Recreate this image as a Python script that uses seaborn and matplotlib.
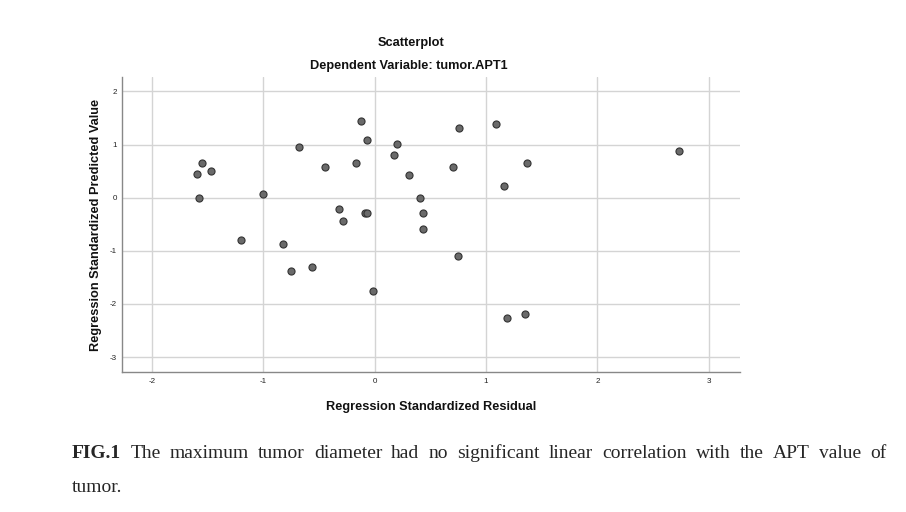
import matplotlib
matplotlib.use("Agg")
import matplotlib.pyplot as plt
import seaborn as sns
import pandas as pd

residual = [-1.60, -1.556, -1.475, -1.58, -1.00, -0.683, -0.45, -0.171, -0.126, -0.072,
            -0.318, -0.288, -0.09, -0.07, 0.758, 1.088, 0.20, 0.177, 0.70, 0.306,
            1.367, 1.163, 0.41, 0.43, 0.435, 0.75, 2.734, -0.015, -1.20, -0.827,
            -0.75, -0.563, 1.187, 1.349]
predicted = [0.44, 0.65, 0.51, 0.00, 0.07, 0.95, 0.585, 0.65, 1.45, 1.09,
             -0.216, -0.435, -0.29, -0.29, 1.31, 1.385, 1.017, 0.80, 0.585, 0.435,
             0.65, 0.216, 0.0, -0.297, -0.585, -1.10, 0.872, -1.75, -0.80, -0.87,
             -1.385, -1.31, -2.255, -2.186]
x_ticks = [-2, -1, 0, 1, 2, 3]
y_ticks = [2, 1, 0, -1, -2, -3]
caption_bold = "FIG.1"
caption_line1 = "The maximum tumor diameter had no significant linear correlation with the APT value of"
caption_line2 = "tumor."

df = pd.DataFrame({"Residual": residual, "Predicted": predicted})

sns.set_theme(style="whitegrid")
plt.rcParams["font.family"] = ["Liberation Sans", "DejaVu Sans"]

fig = plt.figure(figsize=(9.06, 5.12), dpi=100)
W, H = 906, 512
ax = fig.add_axes([122 / W, 1 - 372 / H, (740 - 122) / W, (372 - 77) / H])

sns.scatterplot(data=df, x="Residual", y="Predicted", ax=ax, s=26,
                color="#6a6a6a", edgecolor="#333333", linewidth=0.8, zorder=3)

ax.set_xlim(-2.27, 3.28)
ax.set_ylim(-3.28, 2.27)
ax.set_xticks(x_ticks)
ax.set_yticks(y_ticks)
ax.set_xticklabels([str(t) for t in x_ticks])
ax.set_yticklabels([str(t) for t in y_ticks])
ax.tick_params(axis="x", labelsize=5.8, colors="#222222", length=0, pad=4.5)
ax.tick_params(axis="y", labelsize=5.8, colors="#222222", length=0, pad=3.5)
ax.grid(True, color="#d4d4d4", linewidth=1.0)
ax.set_axisbelow(True)
for side in ["top", "right"]:
    ax.spines[side].set_visible(False)
for side in ["left", "bottom"]:
    ax.spines[side].set_color("#888888")
    ax.spines[side].set_linewidth(1.0)

ax.set_xlabel("Regression Standardized Residual", fontsize=9.2, fontweight="bold",
              color="#111111", labelpad=11)
ax.set_ylabel("Regression Standardized Predicted Value", fontsize=9.2, fontweight="bold",
              color="#111111", labelpad=6)

fig.text(411 / W, 1 - 43 / H, "Scatterplot", ha="center", va="center",
         fontsize=9.2, fontweight="bold", color="#111111")
fig.text(409 / W, 1 - 66 / H, "Dependent Variable: tumor.APT1", ha="center", va="center",
         fontsize=9.2, fontweight="bold", color="#111111")

# caption below the chart, first line justified between x=72 and x=886
serif = ["Liberation Serif", "DejaVu Serif"]
cap_size = 14
left, right = 72, 886
renderer = fig.canvas.get_renderer()
pieces = [(caption_bold, "bold")] + [(w, "normal") for w in caption_line1.split()]
texts = []
for word, weight in pieces:
    t = fig.text(0, 1 - 453 / H, word, ha="left", va="center",
                 fontsize=cap_size, fontweight=weight, family=serif)
    texts.append(t)
widths = [t.get_window_extent(renderer).width for t in texts]
gap = (right - left - sum(widths)) / (len(texts) - 1)
pos = left
for t, w in zip(texts, widths):
    t.set_x(pos / W)
    pos += w + gap
fig.text(left / W, 1 - 488 / H, caption_line2, ha="left", va="center",
         fontsize=cap_size, family=serif)

fig.savefig("out.png", dpi=100)
